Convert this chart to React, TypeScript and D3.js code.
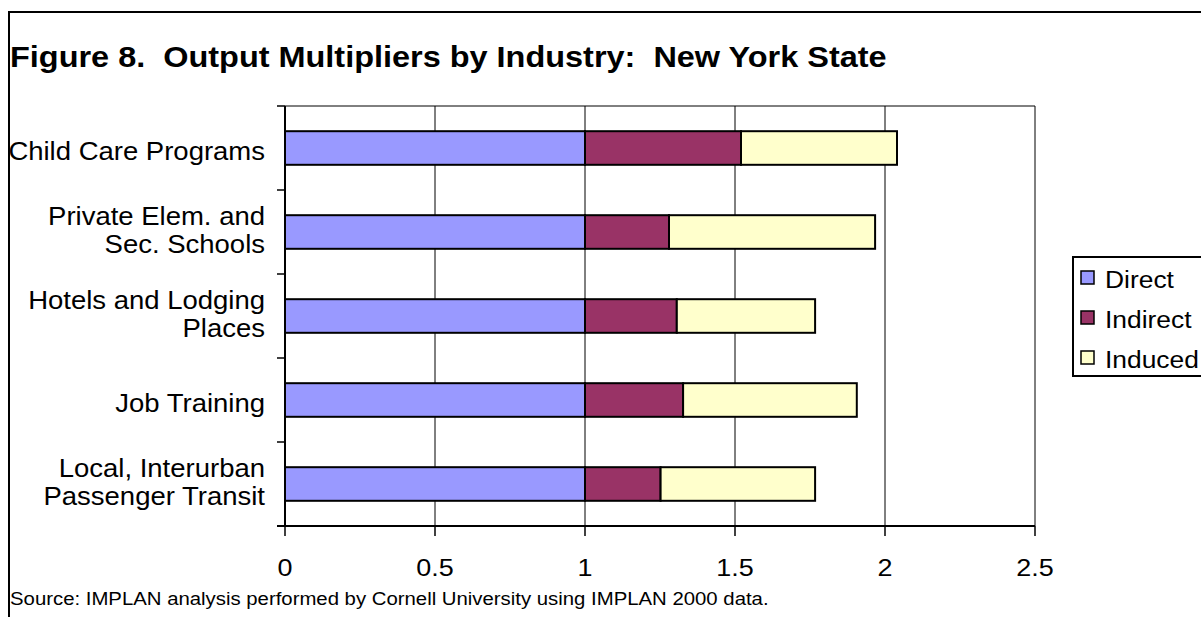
import React from "react";
import * as d3 from "d3";

const categories = [
  "Child Care Programs",
  "Private Elem. and Sec. Schools",
  "Hotels and Lodging Places",
  "Job Training",
  "Local, Interurban Passenger Transit",
];
const categoryLines = [
  ["Child Care Programs"],
  ["Private Elem. and", "Sec. Schools"],
  ["Hotels and Lodging", "Places"],
  ["Job Training"],
  ["Local, Interurban", "Passenger Transit"],
];
const seriesNames = ["Direct", "Indirect", "Induced"];
const direct = [1, 1, 1, 1, 1];
const indirect = [0.52, 0.28, 0.306, 0.327, 0.252];
const induced = [0.52, 0.687, 0.461, 0.579, 0.515];
const xTicks = [0, 0.5, 1, 1.5, 2, 2.5];
const colors = ["#9999FF", "#993366", "#FFFFCC"];

const FONT = "'Liberation Sans', Arial, sans-serif";
const SX = 1.1;

function T(props: { x: number; y: number; size: number; anchor?: string; bold?: boolean; children: any }) {
  return (
    <text
      transform={`translate(${props.x},${props.y}) scale(${SX},1)`}
      fontSize={props.size}
      textAnchor={props.anchor || "start"}
      fontWeight={props.bold ? "bold" : "normal"}
      style={{ whiteSpace: "pre" }}
    >
      {props.children}
    </text>
  );
}

export default function App() {
  const W = 1201, H = 617;
  const left = 285, right = 1035, top = 106, bottom = 526;
  const x = d3.scaleLinear().domain([0, 2.5]).range([left, right]);
  const y = d3.scaleBand<string>().domain(categories).range([top, bottom]).paddingInner(0.6).paddingOuter(0.3);
  const rows = categories.map((c, i) => ({ cat: c, Direct: direct[i], Indirect: indirect[i], Induced: induced[i] }));
  const stacked = d3.stack<any>().keys(seriesNames)(rows);
  const bandBounds = d3.range(categories.length + 1).map((i) => top + i * (bottom - top) / categories.length);

  return (
    <svg width={W} height={H} style={{ position: "absolute", left: 0, top: 0, background: "#fff" }} fontFamily={FONT}>
      <rect x={9} y={12} width={W} height={H} fill="#fff" stroke="#000" strokeWidth={2} />
      <T x={10} y={67} size={29.5} bold>{"Figure 8.  Output Multipliers by Industry:  New York State"}</T>
      {xTicks.slice(1).map((t) => (
        <line key={t} x1={x(t)} x2={x(t)} y1={top} y2={bottom} stroke="#000" strokeWidth={1} />
      ))}
      <line x1={left} x2={right} y1={top} y2={top} stroke="#000" strokeWidth={1} />
      {stacked.map((s, si) =>
        s.map((d, i) => (
          <rect key={si + "-" + i} x={x(d[0])} y={y(categories[i])!} width={x(d[1]) - x(d[0])} height={y.bandwidth()}
            fill={colors[si]} stroke="#000" strokeWidth={2} />
        ))
      )}
      <line x1={left} x2={left} y1={top} y2={bottom} stroke="#000" strokeWidth={2} />
      <line x1={left - 8} x2={right} y1={bottom} y2={bottom} stroke="#000" strokeWidth={2} />
      {bandBounds.map((b, i) => (
        <line key={i} x1={left - 8} x2={left} y1={b} y2={b} stroke="#000" strokeWidth={1.5} />
      ))}
      {xTicks.map((t) => (
        <g key={t}>
          <line x1={x(t)} x2={x(t)} y1={bottom} y2={bottom + 10} stroke="#000" strokeWidth={1.5} />
          <T x={x(t)} y={576} size={24.5} anchor="middle">{String(t)}</T>
        </g>
      ))}
      {categoryLines.map((lines, i) => {
        const cy = y(categories[i])! + y.bandwidth() / 2;
        const base = lines.length === 1 ? cy + 12 : cy + 7;
        return lines.map((ln, j) => (
          <T key={i + "-" + j} x={265} y={base + (j - (lines.length - 1) / 2) * 28} size={25} anchor="end">{ln}</T>
        ));
      })}
      <T x={10} y={605} size={18.5}>Source: IMPLAN analysis performed by Cornell University using IMPLAN 2000 data.</T>
      <rect x={1073} y={257} width={200} height={119} fill="#fff" stroke="#000" strokeWidth={2} />
      {seriesNames.map((n, i) => (
        <g key={n}>
          <rect x={1081} y={271 + i * 40} width={13} height={13} fill={colors[i]} stroke="#000" strokeWidth={1.5} />
          <T x={1105} y={288 + i * 40} size={24}>{n}</T>
        </g>
      ))}
    </svg>
  );
}
